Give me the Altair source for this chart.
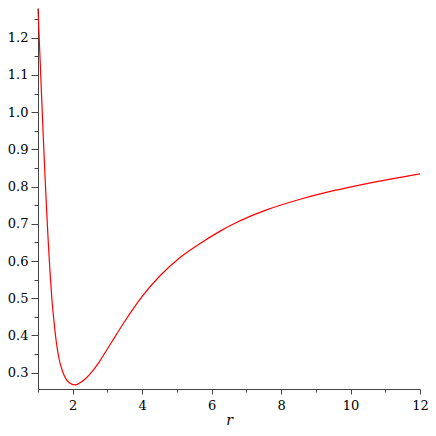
import altair as alt
import pandas as pd

r_vals = [1.0, 1.05, 1.10, 1.15, 1.20, 1.25, 1.30, 1.35, 1.40, 1.45, 1.50, 1.55, 1.60,
          1.70, 1.80, 1.90, 2.07, 2.2, 2.35, 2.55, 2.75, 2.92, 3.14, 3.5, 3.95, 4.5,
          5.1, 5.68, 6.26, 6.64, 7.6, 8.55, 9.51, 10.47, 12.0]
y_vals = [1.278, 1.165, 1.05, 0.938, 0.832, 0.733, 0.643, 0.565, 0.498, 0.447, 0.403, 0.368, 0.34,
          0.305, 0.284, 0.273, 0.267, 0.272, 0.282, 0.302, 0.327, 0.352, 0.385, 0.438, 0.499, 0.559,
          0.610, 0.648, 0.681, 0.700, 0.738, 0.766, 0.789, 0.808, 0.834]

x_ticks = [1, 2, 3, 4, 5, 6, 7, 8, 9, 10, 11, 12]
y_ticks = [round(0.3 + 0.05 * i, 2) for i in range(20)]

df = pd.DataFrame({"r": r_vals, "y": y_vals})

FONT = "DejaVu Serif"
AX = "#444444"

major_x = "datum.value % 2 == 0"
major_y = "abs(datum.value*10 - round(datum.value*10)) < 0.001"

chart = alt.Chart(df).mark_line(color="#ff0000", strokeWidth=1.2, interpolate="monotone").encode(
    x=alt.X("r:Q", title="r",
            scale=alt.Scale(domain=[1, 12], nice=False, zero=False),
            axis=alt.Axis(values=x_ticks, grid=False, domainColor=AX, tickColor=AX,
                          tickSize={"condition": {"test": major_x, "value": 5}, "value": 3},
                          labelExpr="datum.value % 2 == 0 ? datum.label : ''",
                          labelPadding=5, labelFlush=False,
                          titleFontStyle="italic", titlePadding=1)),
    y=alt.Y("y:Q", title=None,
            scale=alt.Scale(domain=[0.256, 1.28], nice=False, zero=False),
            axis=alt.Axis(values=y_ticks, grid=False, domainColor=AX, tickColor=AX,
                          tickSize={"condition": {"test": major_y, "value": 7}, "value": 4},
                          labelExpr=major_y + " ? format(datum.value, '.1f') : ''",
                          labelPadding=3, labelFlush=False)),
).properties(
    width=382, height=381,
    autosize=alt.AutoSizeParams(type="none"),
    padding={"left": 30, "top": 0, "right": 8, "bottom": 40},
).configure(font=FONT).configure_axis(
    labelFont=FONT, labelFontSize=13, labelColor="black",
    titleFont=FONT, titleFontSize=14, titleFontWeight="normal", titleColor="black",
).configure_view(stroke=None)

chart.save("out.html", embed_options={"renderer": "svg", "actions": False})
